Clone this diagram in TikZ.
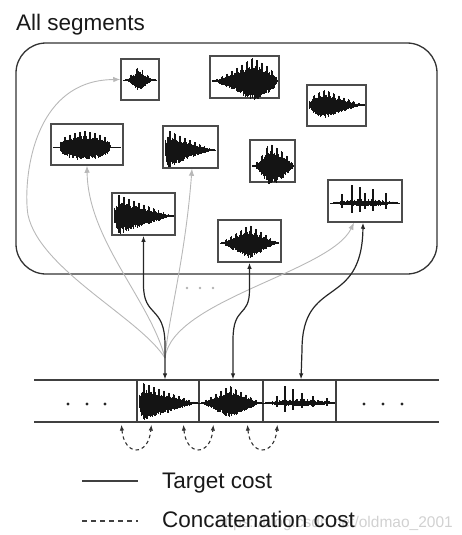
\documentclass[tikz,border=0pt]{standalone}
\usepackage{fontspec}
\setmainfont{Liberation Sans}
\usetikzlibrary{arrows.meta,calc}
\tikzset{
 frame/.style={draw=black!80, line width=1.3pt, rounded corners=30pt, inner sep=0pt},
 wbox/.style={draw=black!70, line width=1.5pt, inner sep=0pt},
 wline/.style={line width=1pt, black!92},
 seg/.style={draw=black!75, line width=1.2pt, inner sep=0pt, minimum height=42pt},
 stripline/.style={line width=1.2pt, black!75},
 tcost/.style={line width=1.2pt, black!85, {Latex[length=6pt,width=4.5pt]}-{Latex[length=6pt,width=4.5pt]}},
 gcost/.style={line width=0.9pt, black!28, -{Latex[length=7pt,width=5.5pt]}},
 ccost/.style={line width=1.1pt, black!80, dash pattern=on 3.5pt off 3pt, {Latex[length=6pt,width=4.5pt]}-{Latex[length=6pt,width=4.5pt]}},
 legsolid/.style={line width=1.3pt, black!75},
 legdash/.style={line width=1.3pt, black!75, dash pattern=on 5pt off 4pt},
 lbl/.style={inner sep=0pt, anchor=base west, font=\fontsize{22.5}{27}\selectfont, text=black!90},
 bdot/.style={circle, fill=black!85, inner sep=0pt, minimum size=3.4pt},
 gdot/.style={circle, fill=black!30, inner sep=0pt, minimum size=2.8pt},
}
\newcommand\wform[8]{%
  \pgfmathtruncatemacro\wvN{(#2-#1)/0.7}%
  \foreach \k in {0,...,\wvN}{%
    \pgfmathsetmacro\wvT{\k/\wvN}%
    \pgfmathsetmacro\wvE{\wvT<#5 ? pow(max(\wvT/#5,0.001),#6) : pow(max((1-\wvT)/(1-#5),0.001),#7)}%
    \pgfmathsetmacro\wvP{mod(\k,#8)<2 ? 1 : 0.5+0.2*rnd}%
    \pgfmathsetmacro\wvU{max(#4*\wvE*\wvP,0.9)}%
    \pgfmathsetmacro\wvD{max(#4*\wvE*(0.6+0.3*rnd),0.9)}%
    \pgfmathsetmacro\wvX{#1+\k*(#2-#1)/\wvN}%
    \draw[wline] (\wvX,#3-\wvU) -- (\wvX,#3+\wvD);%
  }%
}
\begin{document}
\begin{tikzpicture}[x=1pt,y=-1pt]
\useasboundingbox (0,0) rectangle (461,535);
\pgfmathsetseed{4242}
\node[lbl] (title) at (16,31) {All segments};
\node[frame, minimum width=421pt, minimum height=231pt] (all) at (226.5,158.5) {};

% segment boxes
\node[wbox, minimum width=38pt, minimum height=41pt] (A) at (140,79.5) {};
\node[wbox, minimum width=69pt, minimum height=42pt] (B) at (244.5,77) {};
\node[wbox, minimum width=59pt, minimum height=41pt] (C) at (336.5,105.5) {};
\node[wbox, minimum width=72pt, minimum height=41pt] (D) at (87,144.5) {};
\node[wbox, minimum width=55pt, minimum height=42pt] (E) at (190.5,147) {};
\node[wbox, minimum width=45pt, minimum height=42pt] (F) at (272.5,161) {};
\node[wbox, minimum width=74pt, minimum height=42pt] (G) at (365,201) {};
\node[wbox, minimum width=63pt, minimum height=42pt] (H) at (143.5,214) {};
\node[wbox, minimum width=63pt, minimum height=42pt] (I) at (249.5,241) {};

% waveforms
\draw[wline] (123,80) -- (157,80);  \wform{125}{155}{80}{14}{0.45}{1.3}{1.3}{8}
\draw[wline] (212,81) -- (277,81);  \wform{212}{277}{81}{23}{0.62}{1.2}{0.5}{7}
\draw[wline] (309,105) -- (364,105); \wform{309}{364}{105}{15}{0.3}{0.4}{1.1}{7}
\draw[wline] (53,147) -- (121,147);  \wform{60}{110}{147}{16}{0.5}{0.3}{0.3}{7}
\draw[wline] (165,150) -- (216,150); \wform{165}{214}{150}{20}{0.06}{0.5}{1.1}{7}
\draw[wline] (252,166) -- (293,166); \wform{252}{293}{166}{23}{0.42}{1.5}{0.6}{7}
\draw[wline] (330,203) -- (400,203); \wform{333}{397}{203}{4}{0.5}{0.5}{0.5}{5}
\foreach \sx/\sh in {342/9,352/18,360/16,365/10,373/14,386/10}
  \draw[wline, line width=1.6pt] (\sx,203-\sh) -- (\sx,203+\sh*0.55);
\draw[wline] (114,216) -- (173,216); \wform{114}{173}{216}{21}{0.08}{0.5}{1}{7}
\draw[wline] (220,243) -- (279,243); \wform{221}{278}{243}{18}{0.5}{1}{1}{7}

% sequence strip
\draw[stripline] (34,380) -- (439,380);
\draw[stripline] (34,422) -- (439,422);
\node[seg, minimum width=62pt] (s1) at (168,401) {};
\node[seg, minimum width=64pt] (s2) at (231,401) {};
\node[seg, minimum width=73pt] (s3) at (299.5,401) {};
\draw[wline] (139,403) -- (334,403);
\wform{139}{197}{403}{20}{0.07}{0.5}{1}{7}
\wform{201}{261}{403}{17}{0.48}{1}{1}{7}
\wform{265}{334}{403}{4}{0.5}{0.5}{0.5}{5}
\foreach \sx/\sh in {277/7,285/17,293/14,302/10,313/7,327/5}
  \draw[wline, line width=1.6pt] (\sx,403-\sh) -- (\sx,403+\sh*0.5);
\node[bdot] (l1) at (68,404) {};
\node[bdot] (l2) at (87,404) {};
\node[bdot] (l3) at (105,404) {};
\node[bdot] (r1) at (364,404) {};
\node[bdot] (r2) at (383,404) {};
\node[bdot] (r3) at (402,404) {};
\node[gdot] (g1) at (187,288) {};
\node[gdot] (g2) at (200,288) {};
\node[gdot] (g3) at (213,288) {};

% gray candidate connections
\coordinate (fan) at (165,358);
\draw[gcost] (fan) .. controls (140,318) and (40,270) .. (28,215)
  .. controls (23,185) and (30,80) .. (A.west);
\draw[gcost] (fan) .. controls (150,300) and (88,240) .. (D.south);
\draw[gcost] (fan) .. controls (168,320) and (185,260) .. ([xshift=1.5pt]E.south);
\draw[gcost] (fan) .. controls (172,300) and (330,272) .. ([xshift=-11pt]G.south);

% target cost (black)
\draw[tcost] (H.south) -- (143.5,285) .. controls (143.5,318) and (165,305) .. (165,345) -- ([xshift=-3pt]s1.north);
\draw[tcost] (I.south) -- (249.5,290) .. controls (249.5,318) and (233,305) .. (233,340) -- ([xshift=2pt]s2.north);
\draw[tcost] ([xshift=-2pt]G.south) .. controls (362,310) and (302,275) .. (302,350) -- ([xshift=1.5pt]s3.north);

% concatenation cost (dashed)
\draw[ccost] ([xshift=-15pt,yshift=-2pt]s1.south west) .. controls +(3,32) and +(-3,32) .. ([xshift=15pt,yshift=-2pt]s1.south west);
\draw[ccost] ([xshift=-15pt,yshift=-2pt]s2.south west) .. controls +(3,32) and +(-3,32) .. ([xshift=15pt,yshift=-2pt]s2.south west);
\draw[ccost] ([xshift=-15pt,yshift=-2pt]s3.south west) .. controls +(3,32) and +(-3,32) .. ([xshift=15pt,yshift=-2pt]s3.south west);

% legend
\node[inner sep=0pt, anchor=base east, font=\fontsize{15.5}{18}\selectfont, text=black!18] (wm) at (453,527) {https://blog.csdn.net/oldmao\_2001};
\coordinate (la) at (82,481); \coordinate (lb) at (138,481);
\draw[legsolid] (la) -- (lb);
\coordinate (lc) at (82,521); \coordinate (ld) at (138,521);
\draw[legdash] (lc) -- (ld);
\node[lbl] (t1) at (162,488) {Target cost};
\node[lbl] (t2) at (162,527) {Concatenation cost};
\end{tikzpicture}
\end{document}
